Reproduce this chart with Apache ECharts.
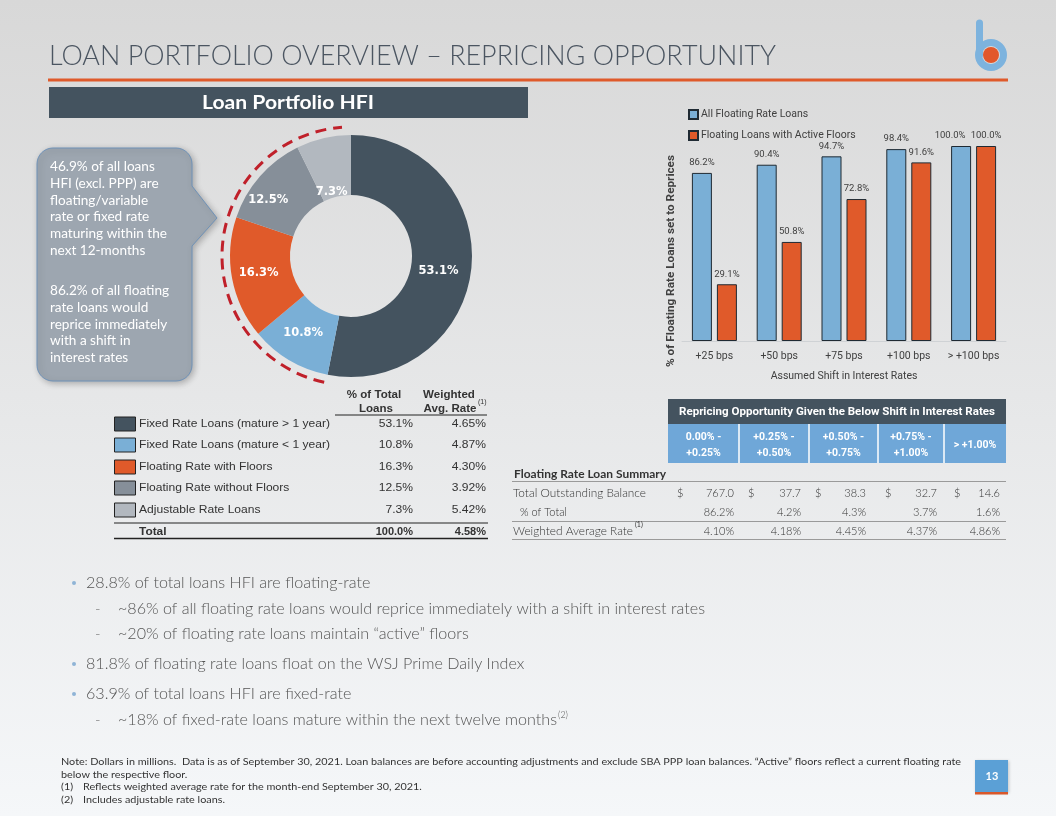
<!DOCTYPE html>
<html><head><meta charset="utf-8">
<script src="https://cdn.jsdelivr.net/npm/echarts@6/dist/echarts.min.js"></script>
<style>html,body{margin:0;padding:0;width:1056px;height:816px;overflow:hidden;background:#e6e8ea}#c{width:1056px;height:816px}</style>
</head><body><div id="c"></div>
<script>
// ---------- DATA ----------
const slideTitle = 'LOAN PORTFOLIO OVERVIEW – REPRICING OPPORTUNITY';
const panelTitle = 'Loan Portfolio HFI';
const pieNames = ['Fixed Rate Loans (mature > 1 year)', 'Fixed Rate Loans (mature < 1 year)', 'Floating Rate with Floors', 'Floating Rate without Floors', 'Adjustable Rate Loans'];
const pieValues = [53.1, 10.8, 16.3, 12.5, 7.3];
const pieRates = ['4.65%', '4.87%', '4.30%', '3.92%', '5.42%'];
const totalRow = ['Total', '100.0%', '4.58%'];
const barCategories = ['+25 bps', '+50 bps', '+75 bps', '+100 bps', '> +100 bps'];
const allFloating = [86.2, 90.4, 94.7, 98.4, 100.0];
const activeFloors = [29.1, 50.8, 72.8, 91.6, 100.0];
const barSeriesNames = ['All Floating Rate Loans', 'Floating Loans with Active Floors'];
const tableTitle = 'Repricing Opportunity Given the Below Shift in Interest Rates';
const rangeHeaders = [['0.00% -', '+0.25%'], ['+0.25% -', '+0.50%'], ['+0.50% -', '+0.75%'], ['+0.75% -', '+1.00%'], ['> +1.00%']];
const balances = ['767.0', '37.7', '38.3', '32.7', '14.6'];
const pctTotal = ['86.2%', '4.2%', '4.3%', '3.7%', '1.6%'];
const wavgRates = ['4.10%', '4.18%', '4.45%', '4.37%', '4.86%'];
const callout1 = ['46.9% of all loans', 'HFI (excl. PPP) are', 'floating/variable', 'rate or fixed rate', 'maturing within the', 'next 12-months'];
const callout2 = ['86.2% of all floating', 'rate loans would', 'reprice immediately', 'with a shift in', 'interest rates'];
const bullets = [
  [0, '28.8% of total loans HFI are floating-rate', ''],
  [1, '~86% of all floating rate loans would reprice immediately with a shift in interest rates', ''],
  [1, '~20% of floating rate loans maintain “active” floors', ''],
  [0, '81.8% of floating rate loans float on the WSJ Prime Daily Index', ''],
  [0, '63.9% of total loans HFI are fixed-rate', ''],
  [1, '~18% of fixed-rate loans mature within the next twelve months', '(2)']
];
const notes = [
  ['', 'Note: Dollars in millions.  Data is as of September 30, 2021. Loan balances are before accounting adjustments and exclude SBA PPP loan balances. “Active” floors reflect a current floating rate'],
  ['', 'below the respective floor.'],
  ['(1)', 'Reflects weighted average rate for the month-end September 30, 2021.'],
  ['(2)', 'Includes adjustable rate loans.']
];
const pageNumber = '13';

// ---------- STYLE ----------
const C = {
  dark: '#44535f', blue: '#7aafd6', orange: '#e05a2a', gray: '#868f99', lgray: '#b2b8bf',
  text: '#3a3a3a', tblBlue: '#6fa7d8', red: '#c0202a'
};
const pieColors = [C.dark, C.blue, C.orange, C.gray, C.lgray];
const pieLabelOffsets = [[-6, 6], [0, -4], [0, 0], [-12, 6], [2, 28]];

const mctx = document.createElement('canvas').getContext('2d');
function fontStr(o) { return (o.italic ? 'italic ' : '') + (o.weight || 'normal') + ' ' + o.size + 'px ' + o.family; }
function measure(text, o) { mctx.font = fontStr(o); return mctx.measureText(text).width; }
function T(x, y, text, o) {
  let sx = o.sx || 1;
  if (o.fit) sx = o.fit / measure(text, o);
  return {
    type: 'text', x: x, y: y, scaleX: sx, rotation: o.rot || 0, z: 20,
    style: {
      text: text, font: fontStr(o), fill: o.color || C.text,
      align: o.align || 'left', verticalAlign: o.va || 'middle',
      textAlign: o.align || 'left', textVerticalAlign: o.va || 'middle'
    }
  };
}
const G = [];
function R(x, y, w, h, fill, extra) { G.push(Object.assign({ type: 'rect', z: 5, shape: { x: x, y: y, width: w, height: h }, style: { fill: fill } }, extra || {})); }
function L(x1, y1, x2, y2, color, w) { G.push({ type: 'line', z: 6, shape: { x1: x1, y1: y1, x2: x2, y2: y2 }, style: { stroke: color, lineWidth: w || 1 } }); }
function corner(pts, cx, cy, r, a0, a1) {
  for (let k = 0; k <= 8; k++) { const a = (a0 + (a1 - a0) * k / 8) * Math.PI / 180; pts.push([cx + r * Math.cos(a), cy + r * Math.sin(a)]); }
}

// title + rule + logo
G.push(T(49, 56, slideTitle, { size: 28, weight: 300, family: 'Lato', color: '#4b5561', fit: 727 }));
R(48, 78.5, 960, 3, '#df5a2b');
G.push({ type: 'line', z: 6, shape: { x1: 979.5, y1: 23, x2: 979.5, y2: 55 }, style: { stroke: '#7db3de', lineWidth: 7, lineCap: 'round' } });
G.push({ type: 'circle', z: 6, shape: { cx: 991, cy: 55, r: 12.5 }, style: { fill: 'none', stroke: '#7db3de', lineWidth: 7 } });
G.push({ type: 'circle', z: 7, shape: { cx: 991, cy: 55, r: 8 }, style: { fill: '#e2572b' } });

// panel header
R(49, 87, 479, 31, C.dark);
G.push(T(288, 103, panelTitle, { size: 18, weight: 'bold', family: 'Lato', color: '#fff', align: 'center', fit: 172 }));

// callout (rounded box with pointer)
const cp = [];
corner(cp, 53, 164, 16, 180, 270);
corner(cp, 176, 164, 16, 270, 360);
cp.push([192, 186], [217, 218], [192, 246]);
corner(cp, 176, 365, 16, 0, 90);
corner(cp, 53, 365, 16, 90, 180);
G.push({ type: 'polygon', z: 4, shape: { points: cp },
  style: { fill: '#9da6b0', stroke: '#6f92b8', lineWidth: 1, shadowBlur: 6, shadowOffsetX: 2, shadowOffsetY: 2, shadowColor: 'rgba(0,0,0,0.25)' } });
const cfont = { size: 12.5, family: 'Lato', color: '#fff' };
const csx = 117 / measure('maturing within the', cfont);
callout1.forEach((s, i) => G.push(T(50, 167 + i * 16.8, s, Object.assign({ sx: csx }, cfont))));
callout2.forEach((s, i) => G.push(T(50, 291 + i * 16.8, s, Object.assign({ sx: csx }, cfont))));

// dashed arc
G.push({ type: 'arc', z: 8, shape: { cx: 351, cy: 256, r: 129, startAngle: 102 * Math.PI / 180, endAngle: 266 * Math.PI / 180, clockwise: true },
  style: { fill: null, stroke: C.red, lineWidth: 3, lineDash: [11, 7] } });

// left legend table
const lf = { size: 11, family: "'Liberation Sans'", color: '#333' };
const lfb = Object.assign({}, lf, { weight: 'bold' });
const lsx = 191 / measure(pieNames[0], lf);
G.push(T(374, 395, '% of Total', Object.assign({ align: 'center', sx: 1.05 }, lfb)));
G.push(T(376, 409, 'Loans', Object.assign({ align: 'center', sx: 1.05 }, lfb)));
G.push(T(449, 395, 'Weighted', Object.assign({ align: 'center', sx: 1.05 }, lfb)));
G.push(T(450, 409, 'Avg. Rate', Object.assign({ align: 'center', sx: 1.05 }, lfb)));
G.push(T(478, 402, '(1)', { size: 7, family: "'Liberation Sans'", color: '#333' }));
L(335, 415, 487, 415, '#222', 1);
const rowY = [424, 445, 467, 488, 510];
pieNames.forEach((n, i) => {
  R(114.5, rowY[i] - 7, 21, 14, pieColors[i], { style: { fill: pieColors[i], stroke: '#222', lineWidth: 1 } });
  G.push(T(139, rowY[i], n, Object.assign({ sx: lsx }, lf)));
  G.push(T(413, rowY[i], pieValues[i].toFixed(1) + '%', Object.assign({ align: 'right', sx: lsx }, lf)));
  G.push(T(486, rowY[i], pieRates[i], Object.assign({ align: 'right', sx: lsx }, lf)));
});
L(114, 523, 488, 523, '#222', 1);
G.push(T(139, 532, totalRow[0], Object.assign({ sx: 1.08 }, lfb)));
G.push(T(413, 532, totalRow[1], Object.assign({ align: 'right' }, lfb)));
G.push(T(486, 532, totalRow[2], Object.assign({ align: 'right' }, lfb)));
L(114, 538.5, 488, 538.5, '#222', 1.5);

// right table
R(668, 399, 338, 25, C.dark);
G.push(T(837, 412, tableTitle, { size: 11, weight: 'bold', family: 'Roboto', color: '#fff', align: 'center', fit: 316 }));
const colB = [668, 739, 809, 878, 944, 1006];
R(668, 424, 338, 39, C.tblBlue);
for (let i = 1; i < 5; i++) L(colB[i], 424, colB[i], 463, '#fff', 1.5);
rangeHeaders.forEach((h, i) => {
  const cx = (colB[i] + colB[i + 1]) / 2;
  const hf = { size: 10.5, weight: 'bold', family: 'Roboto', color: '#fff', align: 'center' };
  if (h.length === 2) { G.push(T(cx, 437, h[0], hf)); G.push(T(cx, 453, h[1], hf)); }
  else G.push(T(cx, 445, h[0], hf));
});
const tf = { size: 11, weight: 300, family: 'Lato', color: '#333' };
G.push(T(514, 474, 'Floating Rate Loan Summary', { size: 11, weight: 'bold', family: 'Lato', color: '#333', fit: 152 }));
L(512, 481.5, 1006, 481.5, '#9a9a9a', 1);
G.push(T(513, 493, 'Total Outstanding Balance', Object.assign({ fit: 133 }, tf)));
G.push(T(520, 512, '% of Total', tf));
G.push(T(513, 531, 'Weighted Average Rate', Object.assign({ fit: 120 }, tf)));
G.push(T(635, 525, '(1)', { size: 7, family: 'Lato', color: '#333' }));
L(512, 521.5, 1006, 521.5, '#9a9a9a', 1);
L(512, 539.5, 1006, 539.5, '#9a9a9a', 1);
const dollarX = [677, 748, 815, 885, 954];
const valR = [734, 801, 866, 937, 1000];
balances.forEach((v, i) => {
  G.push(T(dollarX[i], 493, '$', tf));
  G.push(T(valR[i], 493, v, Object.assign({ align: 'right' }, tf)));
  G.push(T(valR[i], 512, pctTotal[i], Object.assign({ align: 'right' }, tf)));
  G.push(T(valR[i], 531, wavgRates[i], Object.assign({ align: 'right' }, tf)));
});

// bullets
const bf = { size: 15, weight: 300, family: 'Lato', color: '#555' };
const bsx = 587 / measure(bullets[1][1], bf);
const bY = [583, 609, 634, 664, 694, 720];
bullets.forEach((b, i) => {
  if (b[0] === 0) {
    G.push({ type: 'circle', z: 20, shape: { cx: 74, cy: bY[i], r: 2 }, style: { fill: '#8fb4d6' } });
    G.push(T(86, bY[i], b[1], Object.assign({ sx: bsx }, bf)));
  } else {
    G.push(T(95, bY[i], '-', Object.assign({}, bf, { color: '#777' })));
    G.push(T(118, bY[i], b[1], Object.assign({ sx: bsx }, bf)));
    if (b[2]) {
      const w = measure(b[1], bf) * bsx;
      G.push(T(118 + w + 1, bY[i] - 5, b[2], { size: 9, weight: 300, family: 'Lato', color: '#555' }));
    }
  }
});

// footnotes
const nf = { size: 9.5, family: 'Lato', color: '#333' };
const nsx = 900 / measure(notes[0][1], nf);
const nY = [762, 775, 787, 800];
notes.forEach((n, i) => {
  if (n[0]) { G.push(T(61, nY[i], n[0], Object.assign({ sx: nsx }, nf))); G.push(T(83, nY[i], n[1], Object.assign({ sx: nsx }, nf))); }
  else G.push(T(61, nY[i], n[1], Object.assign({ sx: nsx }, nf)));
});

// page number
R(975, 760, 33, 32, '#5ba0d6', { style: { fill: '#5ba0d6', shadowBlur: 3, shadowOffsetX: 1, shadowOffsetY: 1, shadowColor: 'rgba(0,0,0,0.2)' } });
R(975, 792, 33, 2.5, '#d9582b');
G.push(T(992, 776, pageNumber, { size: 11, weight: 'bold', family: 'Lato', color: '#fff', align: 'center' }));

// bar y-axis title
G.push(T(671, 261, '% of Floating Rate Loans set to Reprices', { size: 10.5, weight: 'bold', family: 'Roboto', color: '#404040', align: 'center', rot: Math.PI / 2, fit: 212 }));

// ---------- CHART ----------
const chart = echarts.init(document.getElementById('c'), null, { renderer: 'canvas' });
const barLabel = { show: true, position: 'top', distance: 5, fontSize: 9.5, fontFamily: 'Roboto', color: '#404040', formatter: p => p.value.toFixed(1) + '%' };
const lastIdx = allFloating.length - 1;
chart.setOption({
  animation: false,
  backgroundColor: { type: 'linear', x: 0, y: 0, x2: 0, y2: 1, colorStops: [{ offset: 0, color: '#d8d8d8' }, { offset: 1, color: '#f5f7f9' }] },
  legend: {
    orient: 'vertical', left: 683, top: 104, itemWidth: 9, itemHeight: 9, itemGap: 10,
    icon: 'rect', selectedMode: false,
    textStyle: { fontSize: 10.5, fontFamily: 'Roboto', color: '#404040', padding: [0, 0, 0, -2] },
    data: barSeriesNames
  },
  grid: { left: 682, right: 50, top: 146, bottom: 475 },
  xAxis: {
    type: 'category', data: barCategories,
    axisLine: { lineStyle: { color: '#cfd2d5' } }, axisTick: { show: false },
    axisLabel: { interval: 0, fontSize: 10.5, fontFamily: 'Roboto', color: '#404040', margin: 10 },
    name: 'Assumed Shift in Interest Rates', nameLocation: 'middle', nameGap: 30,
    nameTextStyle: { fontSize: 10.5, fontFamily: 'Roboto', color: '#404040' }
  },
  yAxis: { type: 'value', min: 0, max: 100, show: false },
  series: [
    { type: 'bar', name: barSeriesNames[0], barWidth: 20, barGap: '25%',
      data: allFloating.map((v, i) => i === lastIdx ? { value: v, label: { offset: [-11, 0] } } : v),
      itemStyle: { color: C.blue, borderColor: '#1f2a33', borderWidth: 1 }, label: barLabel, emphasis: { disabled: true } },
    { type: 'bar', name: barSeriesNames[1], data: activeFloors, barWidth: 20, barGap: '25%',
      itemStyle: { color: C.orange, borderColor: '#1f2a33', borderWidth: 1 }, label: barLabel, emphasis: { disabled: true } },
    { type: 'pie', center: [351, 256], radius: [61, 121], startAngle: 90, clockwise: true,
      data: pieNames.map((n, i) => ({ name: n, value: pieValues[i], itemStyle: { color: pieColors[i] }, label: { offset: pieLabelOffsets[i] } })),
      label: { show: true, position: 'inside', formatter: p => p.value.toFixed(1) + '%', color: '#fff', fontSize: 11.5, fontWeight: 'bold', fontFamily: "'DejaVu Sans'" },
      labelLine: { show: false }, emphasis: { disabled: true }, silent: true }
  ],
  graphic: { elements: G }
});
</script></body></html>
